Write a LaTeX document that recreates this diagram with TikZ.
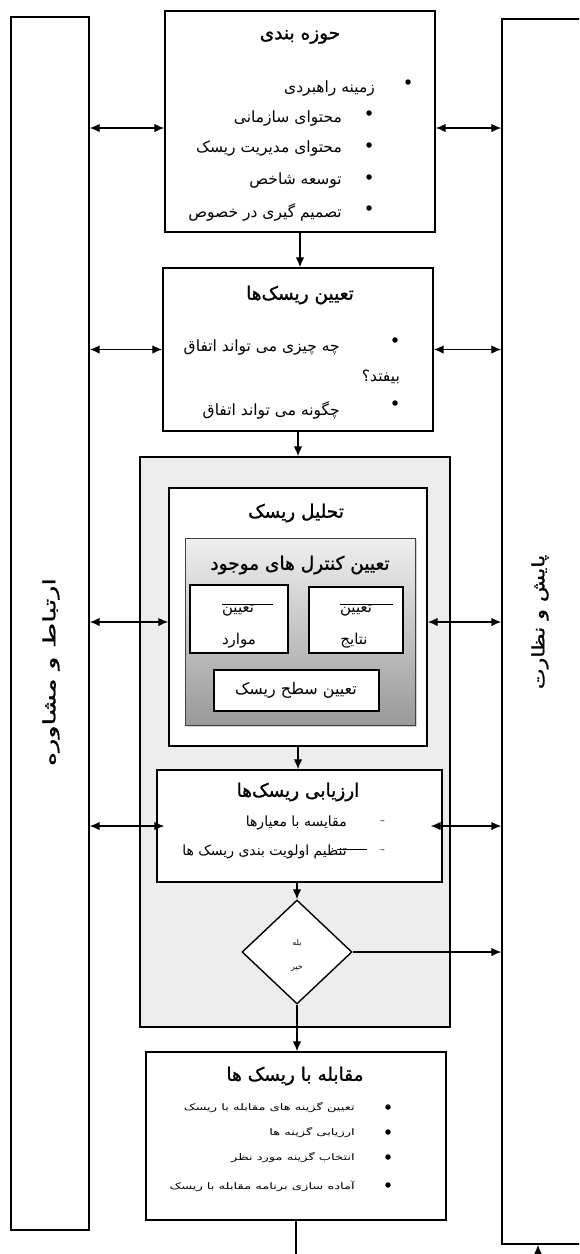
\documentclass[tikz,border=0pt]{standalone}
\usepackage{fontspec}
\usepackage{graphicx}
\usetikzlibrary{arrows.meta,shapes.geometric,shadows,calc}
\TeXXeTstate=1
\newfontfamily\fa[Script=Arabic]{DejaVu Sans}
\newfontfamily\fab[Script=Arabic,FakeBold=1.2]{DejaVu Sans}
\newcommand\fr[1]{{\fa\beginR #1\endR}}
\newcommand\frb[1]{{\fab\beginR #1\endR}}
\begin{document}
\begin{tikzpicture}[x=1pt,y=-1pt,
  box/.style={draw,line width=1.4pt,inner sep=0pt,fill=white},
  arr/.style={line width=1.3pt,-{Latex[length=10pt,width=8.5pt]}},
  barr/.style={line width=1.3pt,{Latex[length=10pt,width=8.5pt]}-{Latex[length=10pt,width=8.5pt]}},
  ttl/.style={font=\fontsize{18.5}{20}\selectfont, inner sep=0pt},
  itm/.style={font=\fontsize{15.5}{18}\selectfont, inner sep=0pt, anchor=east},
  eitm/.style={font=\fontsize{14}{16}\selectfont, inner sep=0pt, anchor=east},
  sml/.style={font=\fontsize{9}{11}\selectfont, inner sep=0pt, anchor=east},
  cen/.style={font=\fontsize{15}{17}\selectfont, inner sep=0pt},
  bul/.style={circle,fill,inner sep=0pt,minimum size=5.5pt},
  vert/.style={rotate=90,font=\fontsize{17}{19}\selectfont, inner sep=0pt},
]
\useasboundingbox (0,0) rectangle (579,1254);
\clip (0,0) rectangle (579,1254);
\fill[white] (0,0) rectangle (579,1254);
% side boxes
\node[box,minimum width=78pt,minimum height=1213pt] (L) at (50,623.5) {};
\node[box,minimum width=88pt,minimum height=1225pt] (R) at (546,631.5) {};
\node[vert] (Lt) at (51,672) {\scalebox{1.6}[1]{\frb{ارتباط و مشاوره}}};
\node[vert] (Rt) at (540,622) {\scalebox{1.3}[1]{\frb{پایش و نظارت}}};
% box A
\node[box,minimum width=270pt,minimum height=221pt] (A) at (300,121.5) {};
\node[ttl] (At) at (300,37) {\frb{حوزه بندی}};
\node[bul] (a0) at (408,82) {};
\node[itm] (a0t) at (375,88) {\fr{زمینه راهبردی}};
\node[bul] (a1b) at (369,113) {};
\node[itm] (a1t) at (342,118) {\fr{محتوای سازمانی}};
\node[bul] (a2b) at (369,145) {};
\node[itm] (a2t) at (342,148) {\fr{محتوای مدیریت ریسک}};
\node[bul] (a3b) at (369,177) {};
\node[itm] (a3t) at (342,180) {\fr{توسعه شاخص}};
\node[bul] (a4b) at (369,208) {};
\node[itm] (a4t) at (342,212) {\fr{تصمیم گیری در خصوص}};
% box B
\node[box,minimum width=270pt,minimum height=163pt] (B) at (298,349.5) {};
\node[ttl] (Bt) at (300,295) {\frb{تعیین ریسک‌ها}};
\node[bul] (b1b) at (395,340) {};
\node[itm] (b1t) at (340,347) {\fr{چه چیزی می تواند اتفاق}};
\node[itm] (b1u) at (400,377) {\fr{بیفتد؟}};
\node[bul] (b2b) at (395,403) {};
\node[itm] (b2t) at (340,410) {\fr{چگونه می تواند اتفاق}};
% gray container
\node[draw,line width=1.4pt,fill=black!7,minimum width=310pt,minimum height=570pt,inner sep=0pt] (G) at (295,742) {};
% analysis
\node[box,minimum width=258pt,minimum height=258pt] (W) at (298,617) {};
\node[ttl] (Wt) at (296,513) {\frb{تحلیل ریسک}};
\node[draw=black!75,line width=1pt,top color=black!6,bottom color=black!40,drop shadow={opacity=0.35,shadow xshift=2pt,shadow yshift=-2pt},minimum width=230pt,minimum height=187pt,inner sep=0pt] (Gr) at (300,631.5) {};
\node[ttl] (Grt) at (300,565) {\frb{تعیین کنترل های موجود}};
\node[box,line width=1.2pt,minimum width=98pt,minimum height=68pt] (SL) at (239,619) {};
\node[cen] (SLa) at (238,611) {\fr{تعیین}};
\node[cen] (SLb) at (239,641) {\fr{موارد}};
\draw[line width=0.8pt] (222,604) -- (273,604);
\node[box,line width=1.2pt,minimum width=94pt,minimum height=66pt] (SR) at (356,620) {};
\node[cen] (SRa) at (356,611) {\fr{تعیین}};
\node[cen] (SRb) at (354,641) {\fr{نتایج}};
\draw[line width=0.8pt] (340,604) -- (393,604);
\node[box,line width=1.2pt,minimum width=165pt,minimum height=41pt] (SB) at (296.5,690.5) {};
\node[cen,font=\fontsize{16}{18}\selectfont] (SBt) at (296,690) {\fr{تعیین سطح ریسک}};
% evaluation
\node[box,minimum width=285pt,minimum height=112pt] (E) at (299.5,826) {};
\node[ttl] (Et) at (298,792) {\frb{ارزیابی ریسک‌ها}};
\node[cen] (e1d) at (383,823) {-};
\node[eitm] (e1t) at (347,823) {\fr{مقایسه با معیارها}};
\node[cen] (e2d) at (383,852) {-};
\node[eitm] (e2t) at (347,852) {\fr{تنظیم اولویت بندی ریسک ها}};
\draw[line width=0.8pt] (337,849) -- (367,849);
% decision
\node[draw,line width=1.4pt,fill=white,diamond,minimum width=110pt,minimum height=104pt,inner sep=0pt] (D) at (297,952) {};
\node[font=\fontsize{8}{9}\selectfont,inner sep=0pt] (D1) at (297,943) {\fr{بله}};
\node[font=\fontsize{8}{9}\selectfont,inner sep=0pt] (D2) at (297,968) {\fr{خیر}};
% treatment
\node[box,minimum width=300pt,minimum height=168pt] (T) at (296,1136) {};
\node[ttl] (Tt) at (295,1076) {\frb{مقابله با ریسک ها}};
\node[bul] (t1b) at (388,1107) {};
\node[sml] (t1t) at (355,1108) {\scalebox{1.45}[1]{\fr{تعیین گزینه های مقابله با ریسک}}};
\node[bul] (t2b) at (388,1132) {};
\node[sml] (t2t) at (355,1133) {\scalebox{1.45}[1]{\fr{ارزیابی گزینه ها}}};
\node[bul] (t3b) at (388,1157) {};
\node[sml] (t3t) at (355,1158) {\scalebox{1.45}[1]{\fr{انتخاب گزینه مورد نظر}}};
\node[bul] (t4b) at (388,1185) {};
\node[sml] (t4t) at (355,1186) {\scalebox{1.45}[1]{\fr{آماده سازی برنامه مقابله با ریسک}}};
% flow connectors
\draw[arr] (A.south) -- (A.south|-B.north);
\draw[arr] (B.south) -- (B.south|-G.north);
\draw[arr] (W.south) -- (W.south|-E.north);
\draw[arr] (D.north|-E.south) -- (D.north);
\draw[arr] (D.south) -- (D.south|-T.north);
\draw[arr] (D.east) -- (D.east-|R.west);
\coordinate (tend) at (296,1262);
\draw[line width=1.3pt] (T.south) -- (T.south|-tend);
\coordinate (rin) at (538,1262);
\draw[arr] (rin) -- (rin|-R.south);
% side connectors
\coordinate (ya) at ([yshift=-6.5pt]A.west);
\draw[barr] (ya-|L.east) -- (ya);
\draw[barr] (ya-|A.east) -- (ya-|R.west);
\draw[barr] (B.west-|L.east) -- (B.west);
\draw[barr] (B.east) -- (B.east-|R.west);
\coordinate (yw) at ([yshift=-5pt]W.west);
\draw[barr] (yw-|L.east) -- (yw);
\draw[barr] (yw-|W.east) -- (yw-|R.west);
\draw[barr] (E.west-|L.east) -- ([xshift=8pt]E.west);
\draw[barr] ([xshift=-12pt]E.east) -- (E.east-|R.west);
\end{tikzpicture}
\end{document}
